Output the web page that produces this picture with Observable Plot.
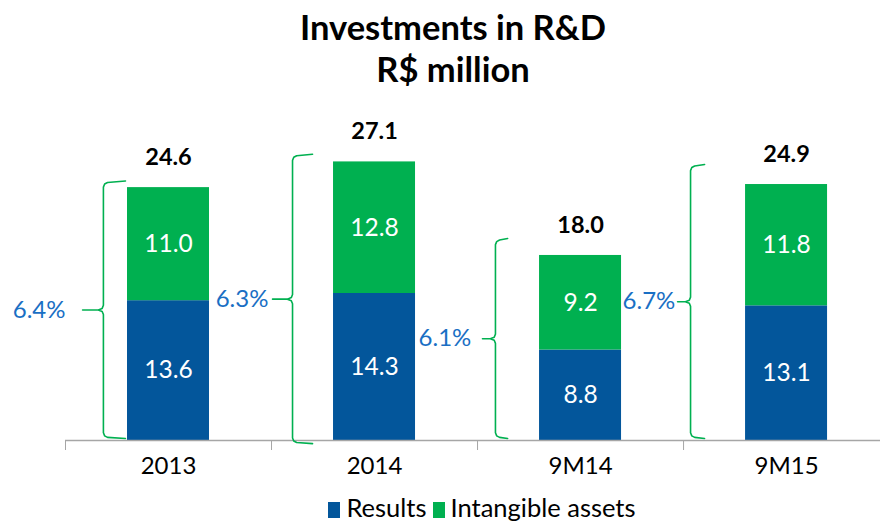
<!DOCTYPE html>
<html>
<head>
<meta charset="utf-8">
<script src="https://cdn.jsdelivr.net/npm/d3@7"></script>
<script src="https://cdn.jsdelivr.net/npm/@observablehq/plot@0.6"></script>
<style>
  html, body { margin: 0; padding: 0; background: #fff; }
  #wrap { position: relative; width: 880px; height: 524px; font-family: Lato, "Open Sans", sans-serif; overflow: hidden; }
  #title { position: absolute; left: 0; width: 906px; top: 6px; text-align: center; font-weight: bold; font-size: 34.5px; line-height: 42px; color: #000; }
  #legend { position: absolute; left: 90px; width: 790px; top: 492px; text-align: center; font-size: 25.5px; color: #000; line-height: 30px; white-space: nowrap; }
  #legend span.sw { display: inline-block; width: 12px; height: 16px; vertical-align: -1px; margin-right: 6px; }
  #legend span.it { margin-right: 6px; }
  #chart { position: absolute; left: 0; top: 0; }
</style>
</head>
<body>
<div id="wrap">
  <div id="chart"></div>
  <div id="title">Investments in R&amp;D<br>R$ million</div>
  <div id="legend"></div>
</div>
<script>
// ---- data ----
const categories = ["2013", "2014", "9M14", "9M15"];
const results = [13.6, 14.3, 8.8, 13.1];
const intangible = [11.0, 12.8, 9.2, 11.8];
const totals = [24.6, 27.1, 18.0, 24.9];
const shares = ["6.4%", "6.3%", "6.1%", "6.7%"];
const seriesNames = ["Results", "Intangible assets"];
const seriesColors = ["#03569b", "#00b050"];

// ---- brace annotation layout (offsets from category centre, in category units) ----
const braceLayout = [
  {v: -0.316, h: -0.209, p: -0.417, l: -0.50, top: 25.1, bot: 0.3},
  {v: -0.398, h: -0.301, p: -0.495, l: -0.515, top: 27.7, bot: -0.2},
  {v: -0.413, h: -0.354, p: -0.476, l: -0.53, top: 19.5, bot: 0.3},
  {v: -0.466, h: -0.398, p: -0.529, l: -0.54, top: 26.7, bot: 0.3}
];

const half = 0.199;
const segs = [];
categories.forEach((c, i) => {
  segs.push({i, s: seriesNames[0], y1: 0, y2: results[i], v: results[i]});
  segs.push({i, s: seriesNames[1], y1: results[i], y2: results[i] + intangible[i], v: intangible[i]});
});
const cats = categories.map((c, i) => ({i, c, total: totals[i], share: shares[i]}));

const bracePts = [];
braceLayout.forEach((b, i) => {
  const mid = (b.top + b.bot) / 2;
  const pts = [
    [b.h, b.top + 0.15], [b.v + 0.02, b.top], [b.v + 0.006, b.top - 0.15], [b.v, b.top - 0.45],
    [b.v, mid + 0.45], [b.v - 0.006, mid + 0.15], [b.v - 0.025, mid], [b.p, mid],
    [b.v - 0.025, mid], [b.v - 0.006, mid - 0.15], [b.v, mid - 0.45],
    [b.v, b.bot + 0.45], [b.v + 0.006, b.bot + 0.15], [b.v + 0.02, b.bot], [b.h, b.bot - 0.1]
  ];
  pts.forEach(([x, y]) => bracePts.push({i, x: i + x, y}));
});
const braceLabels = braceLayout.map((b, i) => ({i, x: i + b.l, y: (b.top + b.bot) / 2, t: shares[i]}));

const plot = Plot.plot({
  width: 880,
  height: 524,
  marginLeft: 65,
  marginRight: 0,
  marginTop: 131.6,
  marginBottom: 84,
  style: {fontFamily: "Lato, 'Open Sans', sans-serif", color: "#a6a6a6", background: "transparent"},
  x: {domain: [-0.5, 3.456], ticks: [-0.5, 0.5, 1.5, 2.5], tickFormat: () => "", tickSize: 10, label: null},
  y: {domain: [0, 30], axis: null},
  color: {domain: seriesNames, range: seriesColors},
  marks: [
    Plot.rectY(segs, {x1: d => d.i - half, x2: d => d.i + half, y1: "y1", y2: "y2", fill: "s"}),
    Plot.ruleY([0], {stroke: "#a6a6a6", strokeWidth: 1.5}),
    Plot.text(segs, {x: "i", y: d => (d.y1 + d.y2) / 2, text: d => d.v.toFixed(1), fill: "#fff", fontSize: 24.5}),
    Plot.text(cats, {x: "i", y: "total", text: d => d.total.toFixed(1), dy: -30, fill: "#000", fontSize: 23.5, fontWeight: "bold"}),
    Plot.text(cats, {x: "i", y: 0, text: "c", dy: 26, fill: "#000", fontSize: 24}),
    Plot.line(bracePts, {x: "x", y: "y", z: "i", stroke: "#00b050", strokeWidth: 1.6}),
    Plot.text(braceLabels, {x: "x", y: "y", text: "t", textAnchor: "end", fill: "#1a6fc4", fontSize: 24})
  ]
});
document.getElementById("chart").appendChild(plot);

const legend = document.getElementById("legend");
seriesNames.forEach((n, k) => {
  const sw = document.createElement("span");
  sw.className = "sw";
  sw.style.background = seriesColors[k];
  const t = document.createElement("span");
  t.className = "it";
  t.textContent = n;
  legend.appendChild(sw);
  legend.appendChild(t);
});
</script>
</body>
</html>
